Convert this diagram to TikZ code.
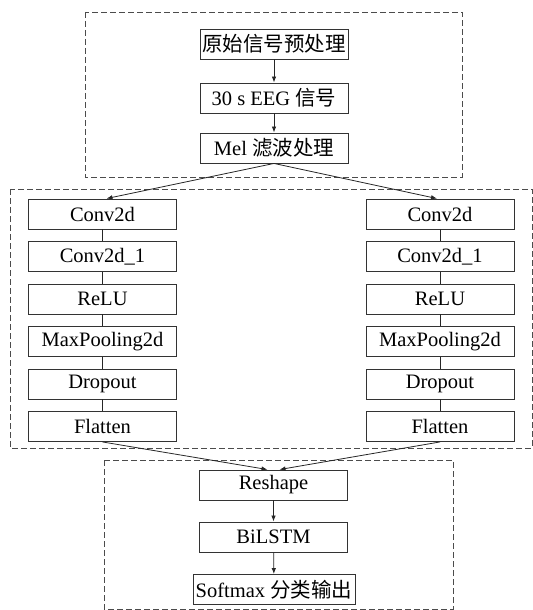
\documentclass[tikz,border=0pt]{standalone}
\usepackage{fontspec}
\setmainfont{Liberation Serif}
\newfontfamily\cjk{Noto Sans CJK SC}
\usepackage{tikz}
\usetikzlibrary{arrows.meta}

\tikzset{
  layer/.style={draw=black!80, line width=0.9bp, minimum width=148bp, minimum height=30bp,
    inner sep=0pt, font=\fontsize{20.5bp}{23bp}\selectfont},
  group/.style={draw=black!70, line width=0.8bp, dash pattern=on 6bp off 3bp},
  flow/.style={->, draw=black!85, line width=0.8bp},
  link/.style={draw=black!85, line width=0.8bp}
}

\begin{document}
\begin{tikzpicture}[x=1bp, y=-1bp, >={Latex[length=6bp,width=4.5bp]}]
  \useasboundingbox (0,0) rectangle (533,610);
  % dashed groups
  \draw[group] (85,12) rectangle (462,177);
  \draw[group] (10,189) rectangle (532,448);
  \draw[group] (104,460) rectangle (453,609);
  % preprocessing
  \node[layer] (pre) at (274,44) {\cjk 原始信号预处理};
  \node[layer] (eeg) at (274,98) {30 s EEG {\cjk 信号}};
  \node[layer] (mel) at (274,148) {Mel {\cjk 滤波处理}};
  \draw[flow] (pre) -- (eeg);
  \draw[flow] (eeg) -- (mel);
  % two CNN branches
  \foreach \i/\lbl in {1/Conv2d,2/Conv2d\_1,3/ReLU,4/MaxPooling2d,5/Dropout,6/Flatten} {
    \node[layer] (L\i) at (102.5,171.5+42.5*\i) {\lbl};
    \node[layer] (R\i) at (440,171.5+42.5*\i) {\lbl};
  }
  \foreach \i [count=\j from 2] in {1,...,5} {
    \draw[link] (L\i) -- (L\j);
    \draw[link] (R\i) -- (R\j);
  }
  \draw[flow] (mel.south) -- ([xshift=4bp]L1.north);
  \draw[flow] (mel.south) -- ([xshift=-3bp]R1.north);
  % classifier
  \node[layer] (reshape) at (273.5,485) {Reshape};
  \node[layer] (bilstm) at (273.5,537) {BiLSTM};
  \node[layer, minimum width=162bp] (soft) at (274,589.5) {Softmax {\cjk 分类输出}};
  \draw[flow] (L6.south) -- ([xshift=-6bp]reshape.north);
  \draw[flow] (R6.south) -- ([xshift=6bp]reshape.north);
  \draw[flow] (reshape) -- (bilstm);
  \draw[flow] (bilstm) -- (soft);
\end{tikzpicture}
\end{document}
